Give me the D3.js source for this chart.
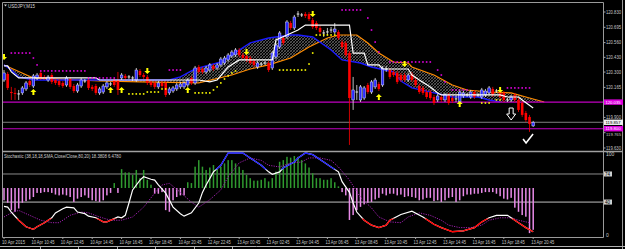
<!DOCTYPE html>
<html><head><meta charset="utf-8">
<script src="https://cdn.jsdelivr.net/npm/d3@7"></script>
<style>html,body{margin:0;padding:0;background:#000;overflow:hidden}svg{display:block}</style>
</head><body><svg id="c" width="625" height="249"></svg>
<script>
// ---------------- DATA ----------------
const symbolTitle = "USDJPY,M15";
const stochTitle = "Stochastic (38,18,18,SMA,Close/Close,80,20) 18.3808 6.4780";
const timeLabels = ["10 Apr 2015","10 Apr 10:45","10 Apr 12:45","10 Apr 14:45","10 Apr 16:45","10 Apr 18:45","10 Apr 20:45","12 Apr 22:45","13 Apr 00:45","13 Apr 02:45","13 Apr 04:45","13 Apr 06:45","13 Apr 08:45","13 Apr 10:45","13 Apr 12:45","13 Apr 14:45","13 Apr 16:45","13 Apr 18:45","13 Apr 20:45"];
const priceTicks = [120.830,120.695,120.560,120.430,120.300,120.165,119.900,119.765,119.630];
const stochTicks = [100,0];

const openP = [120.230,120.283,120.124,120.116,120.107,120.116,120.151,120.221,120.177,120.248,
120.292,120.257,120.230,120.274,120.230,120.221,120.204,120.186,120.239,120.177,
120.133,120.177,120.221,120.230,120.169,120.177,120.116,120.124,120.169,120.195,
120.230,120.230,120.248,120.266,120.257,120.248,120.230,120.310,120.274,120.257,
120.213,120.204,120.169,120.204,120.204,120.116,120.133,120.151,120.169,120.169,
120.186,120.248,120.204,120.345,120.327,120.301,120.318,120.354,120.336,120.363,
120.380,120.407,120.442,120.451,120.495,120.451,120.442,120.424,120.398,120.345,
120.371,120.380,120.380,120.336,120.433,120.521,120.601,120.610,120.733,120.689,
120.812,120.804,120.812,120.812,120.759,120.733,120.689,120.645,120.654,120.671,
120.654,120.654,120.565,120.557,120.468,120.054,120.124,120.054,120.071,120.186,
120.124,120.169,120.195,120.186,120.327,120.318,120.301,120.292,120.274,120.274,
120.230,120.283,120.230,120.177,120.160,120.124,120.124,120.080,120.054,120.080,
120.054,120.098,120.071,120.063,120.036,120.089,120.098,120.080,120.124,120.098,
120.080,120.098,120.116,120.151,120.133,120.124,120.116,120.054,120.054,120.098,
120.054,120.027,119.939,119.904,119.825];
const highP = [120.318,120.301,120.169,120.160,120.142,120.177,120.221,120.239,120.283,120.292,
120.310,120.274,120.274,120.292,120.248,120.239,120.221,120.266,120.257,120.195,
120.204,120.248,120.239,120.248,120.186,120.195,120.169,120.195,120.221,120.213,
120.248,120.301,120.292,120.283,120.274,120.266,120.336,120.327,120.292,120.274,
120.230,120.221,120.221,120.221,120.221,120.169,120.177,120.204,120.213,120.221,
120.248,120.266,120.354,120.363,120.345,120.354,120.380,120.371,120.380,120.433,
120.442,120.468,120.495,120.512,120.512,120.468,120.460,120.442,120.415,120.398,
120.389,120.398,120.398,120.486,120.557,120.662,120.618,120.759,120.751,120.804,
120.839,120.821,120.830,120.830,120.777,120.751,120.707,120.671,120.689,120.698,
120.733,120.671,120.583,120.574,120.486,120.257,120.186,120.186,120.177,120.204,
120.230,120.248,120.213,120.354,120.354,120.336,120.318,120.310,120.292,120.292,
120.292,120.301,120.248,120.195,120.177,120.142,120.142,120.098,120.107,120.098,
120.116,120.116,120.089,120.089,120.142,120.133,120.116,120.142,120.142,120.116,
120.160,120.151,120.177,120.169,120.151,120.142,120.133,120.071,120.098,120.116,
120.071,120.045,119.957,119.922,119.869];
const lowP = [120.213,120.142,120.054,120.054,120.054,120.098,120.133,120.169,120.160,120.230,
120.230,120.230,120.213,120.195,120.186,120.169,120.160,120.169,120.151,120.116,
120.116,120.160,120.204,120.142,120.133,120.098,120.098,120.107,120.151,120.177,
120.169,120.098,120.230,120.230,120.239,120.221,120.213,120.257,120.239,120.186,
120.169,120.151,120.151,120.160,120.080,120.098,120.116,120.133,120.151,120.151,
120.169,120.186,120.186,120.283,120.283,120.283,120.301,120.310,120.318,120.345,
120.363,120.389,120.424,120.433,120.433,120.407,120.389,120.363,120.345,120.327,
120.354,120.363,120.301,120.318,120.415,120.504,120.539,120.592,120.671,120.671,
120.786,120.786,120.777,120.751,120.680,120.671,120.636,120.610,120.627,120.645,
120.636,120.583,120.504,120.433,119.657,119.966,120.054,120.036,120.054,120.107,
120.107,120.151,120.133,120.169,120.301,120.239,120.257,120.195,120.213,120.213,
120.213,120.213,120.169,120.107,120.098,120.063,120.054,120.010,120.036,120.036,
120.036,120.010,120.027,120.036,120.019,120.071,120.080,120.063,120.063,120.080,
120.063,120.080,120.098,120.080,120.116,120.063,120.036,120.036,120.036,120.036,
119.948,119.904,119.860,119.772,119.816];
const closeP = [120.292,120.160,120.116,120.107,120.107,120.160,120.204,120.186,120.266,120.274,
120.248,120.248,120.257,120.213,120.204,120.186,120.177,120.248,120.169,120.133,
120.186,120.230,120.221,120.160,120.151,120.116,120.151,120.177,120.204,120.195,
120.186,120.142,120.274,120.248,120.257,120.248,120.318,120.274,120.257,120.204,
120.186,120.169,120.204,120.177,120.098,120.151,120.160,120.186,120.195,120.204,
120.230,120.204,120.336,120.301,120.301,120.336,120.363,120.327,120.363,120.415,
120.424,120.451,120.477,120.495,120.451,120.424,120.407,120.380,120.363,120.380,
120.371,120.380,120.318,120.468,120.539,120.645,120.557,120.742,120.689,120.786,
120.812,120.804,120.795,120.768,120.698,120.689,120.654,120.645,120.654,120.671,
120.680,120.601,120.521,120.451,120.071,120.142,120.124,120.169,120.160,120.124,
120.213,120.230,120.151,120.336,120.327,120.257,120.274,120.213,120.230,120.230,
120.274,120.230,120.186,120.124,120.116,120.080,120.071,120.027,120.089,120.054,
120.098,120.027,120.045,120.063,120.124,120.116,120.098,120.124,120.080,120.098,
120.142,120.133,120.160,120.098,120.133,120.080,120.054,120.054,120.080,120.054,
119.966,119.922,119.877,119.842,119.857];

// indicator lines: [bar index, price]
const blueLine = [[0,120.363],[2,120.318],[4,120.257],[8,120.230],[26,120.230],[45,120.230],[48,120.257],[52,120.327],[59,120.389],[67,120.557],[72,120.601],[78,120.627],[80,120.627],[84,120.610],[89,120.495],[92,120.407],[97,120.380],[100,120.345],[106,120.301],[108,120.221],[111,120.160],[117,120.116],[122,120.080],[129,120.080],[132,120.054],[135,120.036]];
const orangeLine = [[0,120.363],[8,120.248],[26,120.221],[37,120.213],[53,120.204],[62,120.274],[67,120.327],[72,120.363],[78,120.424],[83,120.521],[88,120.601],[91,120.627],[96,120.627],[99,120.557],[102,120.468],[106,120.389],[110,120.380],[111,120.345],[117,120.274],[122,120.186],[126,120.142],[132,120.124],[138,120.116],[142,120.080],[147,120.036]];
const whiteLine = [[0,120.354],[1,120.354],[2,120.301],[4,120.248],[25,120.248],[26,120.230],[53,120.230],[56,120.213],[58,120.230],[61,120.345],[64,120.407],[73,120.407],[74,120.583],[77,120.627],[80,120.671],[82,120.715],[94,120.715],[95,120.468],[98,120.468],[99,120.363],[102,120.363],[103,120.327],[110,120.327],[111,120.274],[113,120.230],[116,120.169],[118,120.116],[119,120.098],[135,120.098],[137,120.080],[140,120.080],[141,120.054],[144,119.983]];
const sarAbove = [[2,120.468],[3,120.468],[4,120.468],[5,120.468],[6,120.468],[7,120.468],[8,120.424],[9,120.363],[10,120.310],[11,120.310],[12,120.310],[13,120.310],[14,120.310],[15,120.310],[16,120.310],[17,120.310],[18,120.310],[19,120.310],[20,120.310],[21,120.310],[22,120.310],[23,120.248],[24,120.248],[25,120.248],[26,120.248],[27,120.248],[28,120.248],[29,120.248],[30,120.248],[45,120.318],[46,120.318],[47,120.318],[48,120.318],[92,120.848],[93,120.848],[94,120.848],[95,120.848],[96,120.848],[97,120.848],[99,120.777],[100,120.671],[101,120.565],[102,120.477],[105,120.389],[106,120.389],[107,120.389],[108,120.389],[109,120.389],[110,120.389],[111,120.389],[112,120.389],[113,120.389],[114,120.389],[115,120.389],[116,120.389],[118,120.318],[119,120.274],[120,120.213],[122,120.142],[123,120.142],[124,120.142],[125,120.142],[126,120.142],[137,120.160],[138,120.160],[139,120.160],[140,120.160],[141,120.160],[142,120.160],[143,120.160]];
const sarBelow = [[34,120.107],[35,120.107],[36,120.107],[37,120.107],[38,120.107],[39,120.124],[40,120.124],[41,120.124],[42,120.124],[43,120.151],[44,120.151],[52,120.116],[53,120.116],[54,120.116],[55,120.116],[56,120.116],[57,120.142],[58,120.169],[59,120.204],[60,120.239],[61,120.266],[62,120.292],[63,120.310],[75,120.318],[76,120.318],[77,120.318],[78,120.318],[79,120.318],[80,120.318],[81,120.318],[82,120.318],[83,120.371],[84,120.468],[85,120.627],[86,120.627],[87,120.627],[88,120.627],[89,120.627],[90,120.627],[130,120.027],[131,120.027],[132,120.027],[134,120.054],[135,120.054]];
const arrowsUp = [[8,120.124],[29,120.142],[32,120.142],[50,120.142],[102,120.080],[124,120.019]];
const arrowsDown = [[0,120.433],[39,120.310],[66,120.477],[84,120.812],[109,120.371],[135,120.142]];
const bigArrow = [138,119.93];
const checkMark = [142.6,119.71];
const levelLines = [120.035,119.800];
const bidPrice = 119.857;
const boxedLabels = ["120.035","119.857","119.800"];

// stochastic: [bar, value]
const stochMain = [[0,35],[1,34],[2,28],[4,18],[6,10],[8,7],[9,10],[11,15],[13,21],[14,27],[16,32],[17,34],[19,33],[20,28],[22,26],[23,23],[25,21],[27,16],[28,16],[30,20],[31,22],[32,21],[33,24],[34,39],[35,55],[37,67],[38,71],[40,68],[41,67],[42,61],[44,51],[46,34],[48,26],[49,23],[51,27],[53,39],[54,52],[55,61],[57,77],[59,85],[61,100],[65,100],[67,94],[70,85],[72,77],[73,74],[75,77],[76,82],[79,89],[80,94],[82,100],[84,98],[87,89],[89,83],[91,77],[92,65],[94,52],[95,39],[96,28],[98,18],[100,12],[102,9],[104,12],[105,18],[108,25],[111,29],[114,22],[117,13],[119,9],[122,4],[125,5],[128,9],[130,16],[132,21],[134,24],[137,24],[138,21],[140,15],[142,9],[144,4]];
const stochSignal = [[0,22],[2,27],[4,30],[7,24],[10,18],[13,15],[15,15],[18,24],[21,28],[23,27],[26,22],[29,18],[32,18],[35,22],[38,34],[41,51],[43,61],[45,63],[48,52],[51,40],[53,34],[56,43],[59,55],[61,71],[64,88],[67,94],[70,91],[72,85],[75,83],[78,88],[81,89],[83,94],[86,94],[89,91],[91,83],[94,67],[97,46],[100,33],[102,22],[105,16],[108,15],[110,22],[113,27],[116,24],[119,18],[121,12],[124,9],[127,9],[130,12],[132,18],[135,21],[138,21],[140,18],[143,15]];
const histValues = [-15,-18,-27,-29,-25,-18,-16,-14,-11,-6,-6,-5,-5,-6,-8,-9,-8,-9,-11,-17,
-13,-11,-9,-12,-15,-16,-17,-15,-9,-6,6,-6,23,19,19,16,22,12,22,10,
4,-7,-7,-5,-27,-29,-15,-11,-9,-9,7,6,26,34,26,22,25,28,24,26,
30,34,34,30,26,22,16,12,9,9,10,12,8,12,20,32,34,38,37,39,
38,34,30,25,18,12,12,10,10,12,7,2,-5,-9,-39,-33,-27,-23,-20,-18,
-17,-14,-12,-7,-9,-7,-7,-9,-8,-11,-10,-11,-12,-15,-14,-12,-12,-16,-15,-17,
-15,-12,-11,-17,-15,-10,-8,-8,-7,-7,-6,-5,-5,-5,-7,-10,-13,-14,-12,-24,
-29,-33,-35,-55,-51];
const stochLevelLabels = ["74","40"];
const stochLevels = [74.4,40.2];

// ---------------- DRAW ----------------
const svg = d3.select("#c");
const W = 625, H = 249;
const L = 3, R = 603, mainT = 3, mainB = 151, stT = 152, stB = 237;
svg.append("rect").attr("width",W).attr("height",H).attr("fill","#000");

const x = d3.scaleLinear().domain([0,144]).range([4,533.2]);
const y = d3.scaleLinear().domain([119.630,120.830]).range([148,12]);
const ys = d3.scaleLinear().domain([0,100]).range([235,153]);
const yh = d3.scaleLinear().domain([0,10]).range([188,179.8]);

const defs = svg.append("defs");
defs.append("clipPath").attr("id","cm").append("rect").attr("x",L).attr("y",mainT).attr("width",R-L).attr("height",mainB-mainT);
defs.append("clipPath").attr("id","cs").append("rect").attr("x",L).attr("y",stT).attr("width",R-L).attr("height",stB-stT);
const pat = defs.append("pattern").attr("id","hatch").attr("patternUnits","userSpaceOnUse").attr("width",3).attr("height",3);
pat.append("path").attr("d","M0,3 L3,0 M-1,1 L1,-1 M2,4 L4,2").attr("stroke","#8c8c8c").attr("stroke-width",0.6);
pat.append("path").attr("d","M0,0 L3,3 M-1,2 L1,4 M2,-1 L4,1").attr("stroke","#6a6a6a").attr("stroke-width",0.5);
defs.append("clipPath").attr("id","cblue").append("rect").attr("x",L).attr("y",stT).attr("width",R-L).attr("height",ys(80)-stT);
defs.append("clipPath").attr("id","cred").append("rect").attr("x",L).attr("y",ys(20)).attr("width",R-L).attr("height",stB-ys(20));

const font = "Liberation Sans, Arial, sans-serif";

// frames
const frame = svg.append("g").attr("fill","none").attr("stroke","#9a9a9a").attr("stroke-width",1);
frame.append("line").attr("x1",2.5).attr("x2",R+0.5).attr("y1",2.5).attr("y2",2.5);
frame.append("line").attr("x1",2.5).attr("x2",2.5).attr("y1",2.5).attr("y2",stB+0.5);
frame.append("line").attr("x1",R+0.5).attr("x2",R+0.5).attr("y1",2.5).attr("y2",stB+0.5);
frame.append("line").attr("x1",2.5).attr("x2",R+0.5).attr("y1",stB+0.5).attr("y2",stB+0.5);
svg.append("line").attr("x1",2).attr("x2",622).attr("y1",151.5).attr("y2",151.5).attr("stroke","#a0a0a0").attr("stroke-width",1.5);
svg.append("line").attr("x1",622.5).attr("x2",622.5).attr("y1",0).attr("y2",249).attr("stroke","#9a9a9a");
svg.append("line").attr("x1",0).attr("x2",625).attr("y1",246.5).attr("y2",246.5).attr("stroke","#b0b0b0");
[40,78,117,155,194,232].forEach(v=>svg.append("line").attr("x1",v+0.5).attr("x2",v+0.5).attr("y1",246).attr("y2",249).attr("stroke","#b0b0b0"));

// ---- main panel
const gm = svg.append("g").attr("clip-path","url(#cm)");
const cloudPts = blueLine.map(d=>[x(d[0]),y(d[1])]).concat(orangeLine.slice().reverse().map(d=>[x(d[0]),y(d[1])]));
gm.append("path").attr("d","M"+cloudPts.map(p=>p.join(",")).join("L")+"Z").attr("fill","url(#hatch)").attr("fill-rule","evenodd");
const lineGen = d3.line().x(d=>x(d[0])).y(d=>y(d[1]));
gm.append("path").attr("d",lineGen(orangeLine)).attr("fill","none").attr("stroke","#ff8c00").attr("stroke-width",1.2);
gm.append("path").attr("d",lineGen(blueLine)).attr("fill","none").attr("stroke","#1a1aff").attr("stroke-width",1.4);

levelLines.forEach(p=>gm.append("line").attr("x1",L).attr("x2",R).attr("y1",y(p)).attr("y2",y(p)).attr("stroke","#c000c0").attr("stroke-width",1.2));
gm.append("line").attr("x1",L).attr("x2",R).attr("y1",y(bidPrice)).attr("y2",y(bidPrice)).attr("stroke","#808080").attr("stroke-width",1);

const idx = d3.range(openP.length);
const cg = gm.append("g");
idx.forEach(i=>{
  const o=openP[i], c=closeP[i], h=highP[i], l=lowP[i];
  const col = c>o ? "bull" : (c<o ? "bear" : "doji");
  const wc = col==="bear" ? "#ff0000" : "#e8e8e8";
  cg.append("line").attr("x1",x(i)).attr("x2",x(i)).attr("y1",y(h)).attr("y2",y(l)).attr("stroke",wc).attr("stroke-width",0.8);
  if(col==="doji"){
    cg.append("line").attr("x1",x(i)-1.3).attr("x2",x(i)+1.3).attr("y1",y(o)).attr("y2",y(o)).attr("stroke","#e8e8e8").attr("stroke-width",1);
  } else {
    const top = y(Math.max(o,c)), bot = y(Math.min(o,c));
    cg.append("rect").attr("x",x(i)-1.3).attr("y",top).attr("width",2.6).attr("height",Math.max(1,bot-top))
      .attr("fill", col==="bull" ? "#2a2aff" : "#ff0000")
      .attr("stroke", col==="bull" ? "#dcdcff" : "none").attr("stroke-width",0.5);
  }
});
gm.append("path").attr("d",lineGen(whiteLine)).attr("fill","none").attr("stroke","#ffffff").attr("stroke-width",1.2);

sarAbove.forEach(d=>gm.append("rect").attr("x",x(d[0])-0.8).attr("y",y(d[1])-0.8).attr("width",1.6).attr("height",1.6).attr("fill","#e000e0"));
sarBelow.forEach(d=>gm.append("rect").attr("x",x(d[0])-0.8).attr("y",y(d[1])-0.8).attr("width",1.6).attr("height",1.6).attr("fill","#ffff00"));

const upPath = "M0,-3 L3,0 L1,0 L1,3 L-1,3 L-1,0 L-3,0 Z";
arrowsUp.forEach(d=>gm.append("path").attr("d",upPath).attr("transform",`translate(${x(d[0])},${y(d[1])})`).attr("fill","#ffff00"));
arrowsDown.forEach(d=>gm.append("path").attr("d",upPath).attr("transform",`translate(${x(d[0])},${y(d[1])}) scale(1,-1)`).attr("fill","#ffff00"));
gm.append("path").attr("d","M-2,-6 L2,-6 L2,0 L4.5,0 L0,6 L-4.5,0 L-2,0 Z").attr("transform",`translate(${x(bigArrow[0])},${y(bigArrow[1])})`).attr("fill","#000").attr("stroke","#ffffff").attr("stroke-width",1);
svg.append("path").attr("d","M-5,0 L-2,4 L5,-5").attr("transform",`translate(${x(checkMark[0])},${y(checkMark[1])})`).attr("fill","none").attr("stroke","#ffffff").attr("stroke-width",1.6);

svg.append("path").attr("d","M4,4.5 L7,4.5 L5.5,6.5 Z").attr("fill","#cfcfcf");
svg.append("text").attr("x",8).attr("y",8).attr("font-family",font).attr("font-size",5.5).attr("fill","#d8d8d8").attr("textLength",27).attr("lengthAdjust","spacingAndGlyphs").text(symbolTitle);

// price axis
const ax = svg.append("g").attr("font-family",font).attr("font-size",5).attr("fill","#c8c8c8");
priceTicks.forEach(p=>{
  ax.append("line").attr("x1",R).attr("x2",R+2.5).attr("y1",y(p)).attr("y2",y(p)).attr("stroke","#a0a0a0");
  const dy = p===119.765 ? 3.0 : 1.8;
  ax.append("text").attr("x",606).attr("y",y(p)+dy).attr("font-size",p===119.765?4.4:5).attr("textLength",15).attr("lengthAdjust","spacingAndGlyphs").text(p.toFixed(3));
});
const boxes = [[levelLines[0],"#e000e0","#ffffff"],[bidPrice,"#f0f0f0","#000000"],[levelLines[1],"#e000e0","#ffffff"]];
boxes.forEach((b,k)=>{
  ax.append("rect").attr("x",604).attr("y",y(b[0])-2.7).attr("width",19).attr("height",5.4).attr("fill",b[1]);
  ax.append("text").attr("x",605.5).attr("y",y(b[0])+1.5).attr("font-size",4.4).attr("fill",b[2]).attr("textLength",15).attr("lengthAdjust","spacingAndGlyphs").text(boxedLabels[k]);
});

// ---- stochastic panel
const gs = svg.append("g").attr("clip-path","url(#cs)");
stochLevels.forEach((v,k)=>gs.append("line").attr("x1",L).attr("x2",R).attr("y1",ys(v)).attr("y2",ys(v)).attr("stroke",k? "#6e6e6e":"#8a8a8a").attr("stroke-width",k?1.8:1));
histValues.forEach((v,i)=>{
  const y0 = yh(0), y1 = yh(v);
  gs.append("rect").attr("x",x(i)-0.75).attr("y",Math.min(y0,y1)).attr("width",1.5).attr("height",Math.abs(y1-y0))
    .attr("fill", v>0 ? "#2f9a2f" : "#e88ae8");
});
const sLine = d3.line().x(d=>x(d[0])).y(d=>ys(d[1]));
gs.append("path").attr("d",sLine(stochSignal)).attr("fill","none").attr("stroke","#a020b0").attr("stroke-width",1).attr("stroke-dasharray","1.2,1.2");
gs.append("path").attr("d",sLine(stochMain)).attr("fill","none").attr("stroke","#ffffff").attr("stroke-width",1.2);
gs.append("path").attr("d",sLine(stochMain)).attr("fill","none").attr("stroke","#1a1aff").attr("stroke-width",1.3).attr("clip-path","url(#cblue)");
gs.append("path").attr("d",sLine(stochMain)).attr("fill","none").attr("stroke","#ff0000").attr("stroke-width",1.3).attr("clip-path","url(#cred)");
svg.append("text").attr("x",4).attr("y",158).attr("font-family",font).attr("font-size",5).attr("fill","#d0d0d0").attr("textLength",117).attr("lengthAdjust","spacingAndGlyphs").text(stochTitle);

stochTicks.forEach(v=>{
  ax.append("text").attr("x",606).attr("y",ys(v)+ (v===100?3:1.5)).text(String(v));
});
stochLevels.forEach((v,k)=>{
  ax.append("rect").attr("x",604).attr("y",ys(v)-2.5).attr("width",8).attr("height",5).attr("fill","#d0d0d0");
  ax.append("text").attr("x",605).attr("y",ys(v)+1.6).attr("fill","#000").attr("font-size",4.5).text(stochLevelLabels[k]);
});

// time axis
const tg = svg.append("g").attr("font-family",font).attr("font-size",5).attr("fill","#c8c8c8");
timeLabels.forEach((t,k)=>{
  const xx = x(k*8);
  tg.append("line").attr("x1",xx).attr("x2",xx).attr("y1",stB).attr("y2",stB+2).attr("stroke","#a0a0a0");
  tg.append("text").attr("x",xx-2).attr("y",243.5).attr("textLength",23).attr("lengthAdjust","spacingAndGlyphs").text(t);
});
</script></body></html>
